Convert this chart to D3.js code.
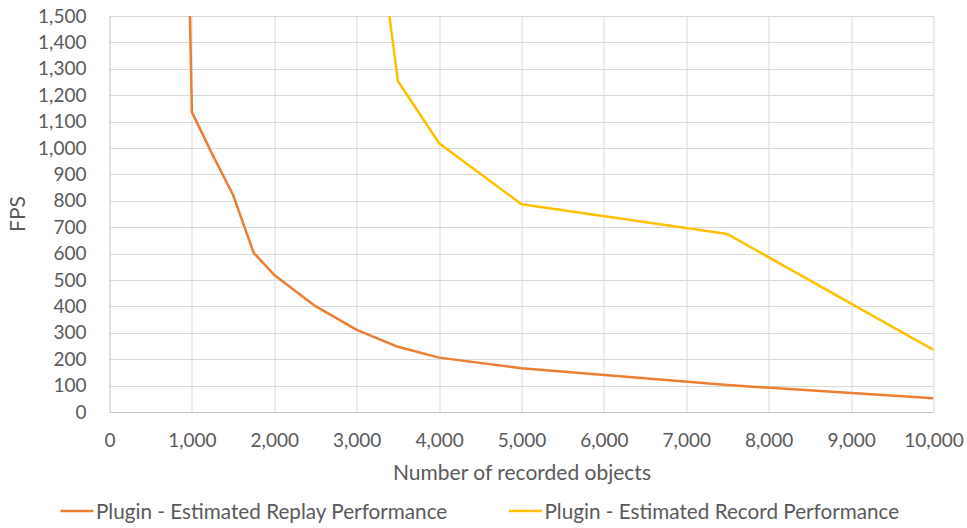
<!DOCTYPE html>
<html>
<head>
<meta charset="utf-8">
<script src="https://cdn.jsdelivr.net/npm/d3@7"></script>
<style>
  body { margin: 0; background: #fff; }
  svg text { font-family: Lato, "Open Sans", sans-serif; fill: #595959; }
</style>
</head>
<body>
<svg id="chart" width="967" height="528"></svg>
<script>
// replay series
var replayObjects = [750, 1000, 1250, 1500, 1750, 2000, 2500, 3000, 3500, 4000, 5000, 7500, 10000];
var replayFps     = [4900, 1136, 975, 822, 603, 519, 401, 311, 247, 206, 166, 102, 52];

// record series
var recordObjects = [3000, 3500, 4000, 5000, 7500, 10000];
var recordFps     = [2450, 1254, 1018, 787, 674, 235];

var xTicks = [0, 1000, 2000, 3000, 4000, 5000, 6000, 7000, 8000, 9000, 10000];
var yTicks = [0, 100, 200, 300, 400, 500, 600, 700, 800, 900, 1000, 1100, 1200, 1300, 1400, 1500];

var seriesNames = ['Plugin - Estimated Replay Performance', 'Plugin - Estimated Record Performance'];
var seriesColors = ['#ED7D31', '#FFC000'];

/**************************************************************************************/

var svg = d3.select('#chart');
var width = 967, height = 528;
var margin = { top: 16, right: 33.5, bottom: 116, left: 109.5 };
var pw = width - margin.left - margin.right;
var ph = height - margin.top - margin.bottom;

var x = d3.scaleLinear().domain([0, 10000]).range([0, pw]);
var y = d3.scaleLinear().domain([0, 1500]).range([ph, 0]);
var fmt = d3.format(',');

var g = svg.append('g').attr('transform', 'translate(' + margin.left + ',' + margin.top + ')');

svg.append('defs').append('clipPath').attr('id', 'plotclip')
    .append('rect').attr('x', 0).attr('y', 0).attr('width', pw).attr('height', ph);

// grid
g.append('g').selectAll('line').data(yTicks.slice(1)).enter().append('line')
    .attr('x1', 0).attr('x2', pw)
    .attr('y1', function(d){ return Math.round(y(d)) + 0.5; })
    .attr('y2', function(d){ return Math.round(y(d)) + 0.5; })
    .attr('stroke', '#D9D9D9').attr('stroke-width', 1);
g.append('g').selectAll('line').data(xTicks.slice(1)).enter().append('line')
    .attr('y1', 0).attr('y2', ph)
    .attr('x1', function(d){ return Math.round(x(d)) + 0.5; })
    .attr('x2', function(d){ return Math.round(x(d)) + 0.5; })
    .attr('stroke', '#D9D9D9').attr('stroke-width', 1);

// axes
var xAxis = g.append('g').attr('transform', 'translate(0,' + ph + ')')
    .call(d3.axisBottom(x).tickValues(xTicks).tickFormat(fmt).tickSize(0).tickPadding(21.5));
var yAxis = g.append('g')
    .call(d3.axisLeft(y).tickValues(yTicks).tickFormat(fmt).tickSize(0).tickPadding(23));
[xAxis, yAxis].forEach(function(a){
    a.select('.domain').attr('stroke', '#BFBFBF').attr('stroke-width', 1);
    a.selectAll('text').attr('font-size', 19).attr('font-family', 'Lato').attr('fill', '#595959');
});

// lines
var line = d3.line().x(function(d){ return x(d[0]); }).y(function(d){ return y(d[1]); });
var series = [d3.zip(replayObjects, replayFps), d3.zip(recordObjects, recordFps)];
var lines = g.append('g').attr('clip-path', 'url(#plotclip)');
series.forEach(function(s, i){
    lines.append('path').datum(s)
        .attr('d', line)
        .attr('fill', 'none')
        .attr('stroke', seriesColors[i])
        .attr('stroke-width', 2.5)
        .attr('stroke-linejoin', 'round');
});

// axis titles
svg.append('text').attr('x', margin.left + pw/2 + 0.5).attr('y', 479.5)
    .attr('text-anchor', 'middle').attr('font-size', 21).text('Number of recorded objects');
svg.append('text').attr('transform', 'translate(25,' + (margin.top + ph/2) + ') rotate(-90)')
    .attr('text-anchor', 'middle').attr('font-size', 21).text('FPS');

// legend
var legendX = [60.5, 509];
seriesNames.forEach(function(name, i){
    var lg = svg.append('g').attr('transform', 'translate(' + legendX[i] + ',511)');
    lg.append('line').attr('x1', 0).attr('x2', 33).attr('y1', 0).attr('y2', 0)
        .attr('stroke', seriesColors[i]).attr('stroke-width', 2.5);
    lg.append('text').attr('x', 35.5).attr('y', 7.5).attr('font-size', 20.7).text(name);
});
</script>
</body>
</html>
